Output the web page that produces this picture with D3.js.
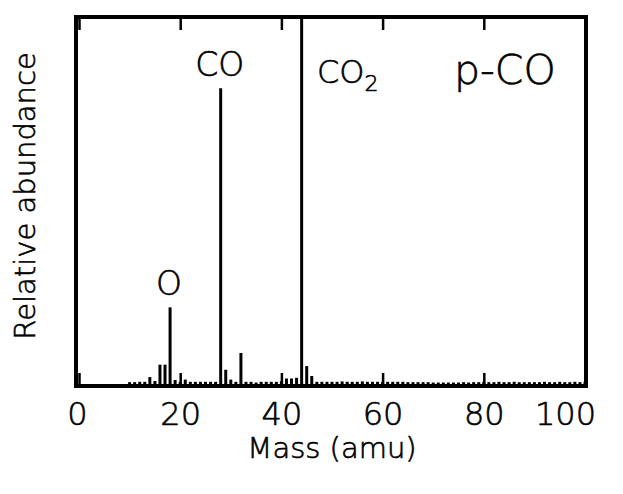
<!DOCTYPE html>
<html>
<head>
<meta charset="utf-8">
<script src="https://cdn.jsdelivr.net/npm/d3@7"></script>
<style>
  body { margin: 0; background: #fff; }
  text { font-family: "DejaVu Sans", sans-serif; font-weight: 300; fill: #000; stroke: #000; stroke-width: 0.6px; }
</style>
</head>
<body>
<svg id="chart"></svg>
<script>
// mass spectrum values (relative abundance, 100 = top of frame, CO2 is off scale)
const masses = [10, 11, 12, 13, 14, 15, 16, 17, 18, 19, 20, 21, 22, 23, 24, 25, 26, 27, 28, 29,
  30, 31, 32, 33, 34, 35, 36, 37, 38, 39, 40, 41, 42, 43, 44, 45, 46, 47, 48, 49,
  50, 51, 52, 53, 54, 55, 56, 57, 58, 59, 60, 61, 62, 63, 64, 65, 66, 67, 68, 69,
  70, 71, 72, 73, 74, 75, 76, 77, 78, 79, 80, 81, 82, 83, 84, 85, 86, 87, 88, 89,
  90, 91, 92, 93, 94, 95, 96, 97, 98, 99, 100];
const abundance = [0.5, 0.5, 0.6, 0.6, 1.9, 0.8, 5.3, 5.3, 21, 1.1, 0.6, 1.2, 0.6, 0.6, 0.6, 0.6, 0.6, 0.6, 81, 3.9,
  1.2, 0.6, 8.5, 0.6, 0.6, 0.4, 0.6, 0.6, 0.6, 0.6, 0.8, 1.5, 1.5, 1.7, 100, 4.9, 2.2, 0.6, 0.6, 0.6,
  0.6, 0.6, 0.7, 0.6, 0.6, 0.6, 0.7, 0.6, 0.6, 0.6, 0.6, 0.6, 0.6, 0.6, 0.6, 0.5, 0.5, 0.5, 0.5, 0.5,
  0.4, 0.4, 0.4, 0.4, 0.4, 0.4, 0.5, 0.4, 0.5, 0.5, 0.6, 0.5, 0.5, 0.6, 0.5, 0.5, 0.6, 0.5, 0.5, 0.5,
  0.5, 0.5, 0.6, 0.5, 0.5, 0.6, 0.5, 0.5, 0.6, 0.5, 0.6];
const xTicks = [0, 20, 40, 60, 80, 100];

// peak labels
const peakLabels = [
  { text: "O", mass: 18, value: 21 },
  { text: "CO", mass: 28, value: 81 }
];

const width = 623;
const height = 494;
const font = '"DejaVu Sans", sans-serif';

const svg = d3.select("#chart")
  .attr("width", width)
  .attr("height", height);

const x = d3.scaleLinear().domain([0, 100]).range([79, 585]);
const y = d3.scaleLinear().domain([0, 100]).range([384, 19]);

// spectrum bars
svg.selectAll(".peak")
  .data(masses)
  .enter()
  .append("line")
  .attr("class", "peak")
  .attr("x1", d => x(d))
  .attr("x2", d => x(d))
  .attr("y1", y(0))
  .attr("y2", (d, i) => y(Math.min(abundance[i], 100)))
  .attr("stroke", "#000")
  .attr("stroke-width", 3);

// bottom axis with inward ticks
const bottomAxis = svg.append("g")
  .attr("transform", `translate(0,${y(0)})`)
  .call(d3.axisBottom(x).tickValues(xTicks).tickSize(-11).tickPadding(18).tickFormat(d3.format("d")));
bottomAxis.select(".domain").remove();
bottomAxis.selectAll(".tick line").attr("stroke-width", 2.5);
bottomAxis.selectAll("text")
  .style("font-family", font)
  .style("font-weight", 300)
  .attr("font-size", 32)
  // last label is pulled in so it stays inside the picture
  .attr("dx", d => d === 100 ? -20 : (d === 0 ? -2 : 0));

// top axis, ticks only
const topAxis = svg.append("g")
  .attr("transform", `translate(0,${y(100)})`)
  .call(d3.axisTop(x).tickValues(xTicks).tickSize(-11).tickFormat(""));
topAxis.select(".domain").remove();
topAxis.selectAll(".tick line").attr("stroke-width", 2.5);

// frame
svg.append("rect")
  .attr("x", 76)
  .attr("y", 17)
  .attr("width", 510)
  .attr("height", 369)
  .attr("fill", "none")
  .attr("stroke", "#000")
  .attr("stroke-width", 4);

// peak labels
svg.selectAll(".peak-label")
  .data(peakLabels)
  .enter()
  .append("text")
  .attr("class", "peak-label")
  .attr("x", d => x(d.mass) - 1)
  .attr("y", d => y(d.value) - 12)
  .attr("text-anchor", "middle")
  .attr("font-size", 33)
  .text(d => d.text);

// CO2 label with subscript
const co2 = svg.append("text")
  .attr("x", 317)
  .attr("y", 83)
  .attr("font-size", 32);
co2.append("tspan").text("CO");
co2.append("tspan").attr("font-size", 22).attr("dy", 8).text("2");

// sample label
svg.append("text")
  .attr("x", 454)
  .attr("y", 84)
  .attr("font-size", 41)
  .text("p-CO");

// axis titles
svg.append("text")
  .attr("x", 332)
  .attr("y", 458)
  .attr("text-anchor", "middle")
  .attr("font-size", 29)
  .text("Mass (amu)");

svg.append("text")
  .attr("transform", "rotate(-90)")
  .attr("x", -196)
  .attr("y", 35)
  .attr("text-anchor", "middle")
  .attr("font-size", 29)
  .text("Relative abundance");
</script>
</body>
</html>
